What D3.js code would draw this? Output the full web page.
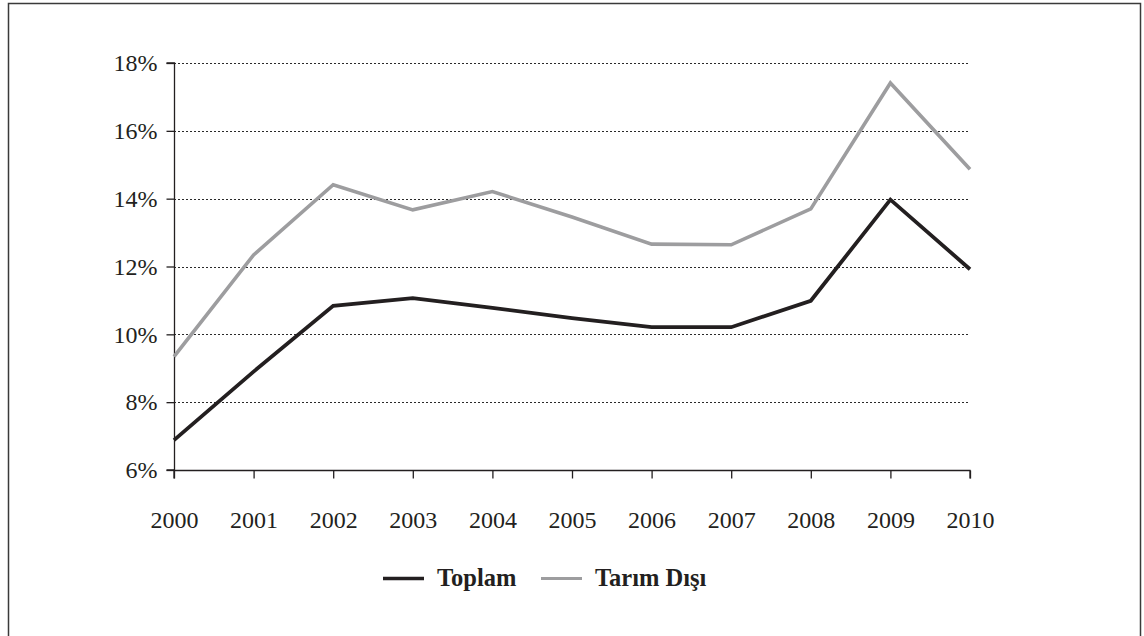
<!DOCTYPE html>
<html>
<head>
<meta charset="utf-8">
<script src="https://cdn.jsdelivr.net/npm/d3@7"></script>
<style>
  body { margin: 0; background: #fff; }
  svg { display: block; font-family: "Liberation Serif", "Times New Roman", serif; }
</style>
</head>
<body>
<svg id="chart" width="1144" height="636"></svg>
<script>
// data
var years = [2000, 2001, 2002, 2003, 2004, 2005, 2006, 2007, 2008, 2009, 2010];
var toplam = [6.88, 8.9, 10.84, 11.07, 10.78, 10.48, 10.21, 10.21, 10.99, 13.97, 11.92];
var tarimDisi = [9.34, 12.34, 14.41, 13.67, 14.21, 13.46, 12.66, 12.64, 13.7, 17.41, 14.87];
var yTicks = [6, 8, 10, 12, 14, 16, 18];
var seriesNames = ["Toplam", "Tarım Dışı"];

var svg = d3.select("#chart");

// outer frame
svg.append("rect")
  .attr("x", 8.5).attr("y", 3.5)
  .attr("width", 1132).attr("height", 700)
  .attr("fill", "none")
  .attr("stroke", "#3a3a3a")
  .attr("stroke-width", 1.5);

var x = d3.scalePoint().domain(years).range([174, 970]);
var y = d3.scaleLinear().domain([6, 18]).range([470, 63]);

// dotted grid
svg.append("g").selectAll("line")
  .data(yTicks.filter(function(d) { return d > 6; }))
  .enter().append("line")
  .attr("x1", 174).attr("x2", 970)
  .attr("y1", function(d) { return Math.round(y(d)) + 0.5; })
  .attr("y2", function(d) { return Math.round(y(d)) + 0.5; })
  .attr("stroke", "#2a2a2a")
  .attr("stroke-width", 1.2)
  .attr("stroke-dasharray", "2,2");

// y axis
var yAxis = svg.append("g")
  .attr("transform", "translate(174.5,0)")
  .call(d3.axisLeft(y).tickValues(yTicks).tickSize(8).tickPadding(9)
    .tickFormat(function(d) { return d + "%"; }));

// x axis
var xAxis = svg.append("g")
  .attr("transform", "translate(0,470.5)")
  .call(d3.axisBottom(x).tickSize(8).tickPadding(32));

[yAxis, xAxis].forEach(function(ax) {
  ax.select(".domain").attr("stroke", "#231f20").attr("stroke-width", 1.3);
  ax.selectAll(".tick line").attr("stroke", "#231f20").attr("stroke-width", 1.3);
  ax.selectAll("text")
    .attr("fill", "#231f20")
    .style("font-family", "'Liberation Serif', serif")
    .style("font-size", "24px");
});
yAxis.select(".domain").attr("d", "M-8," + y(18) + "H0V" + y(6) + "H-8");
xAxis.select(".domain").attr("d", "M" + x(2000) + ",8V0H" + x(2010) + "V8");

var line = d3.line()
  .x(function(d, i) { return x(years[i]); })
  .y(function(d) { return y(d); });

svg.append("path")
  .datum(tarimDisi)
  .attr("d", line)
  .attr("fill", "none")
  .attr("stroke", "#9d9d9f")
  .attr("stroke-width", 3.6)
  .attr("stroke-linejoin", "miter");

svg.append("path")
  .datum(toplam)
  .attr("d", line)
  .attr("fill", "none")
  .attr("stroke", "#231f20")
  .attr("stroke-width", 3.8)
  .attr("stroke-linejoin", "miter");

// legend
var legendColors = ["#231f20", "#9d9d9f"];
var legendX = [383, 541];
var legend = svg.append("g");
seriesNames.forEach(function(name, i) {
  legend.append("line")
    .attr("x1", legendX[i]).attr("x2", legendX[i] + 41)
    .attr("y1", 578.5).attr("y2", 578.5)
    .attr("stroke", legendColors[i])
    .attr("stroke-width", i === 0 ? 3.4 : 3);
  legend.append("text")
    .attr("x", legendX[i] + 54)
    .attr("y", 586)
    .attr("fill", "#231f20")
    .style("font-size", "24.5px")
    .style("font-weight", "bold")
    .text(name);
});
</script>
</body>
</html>
